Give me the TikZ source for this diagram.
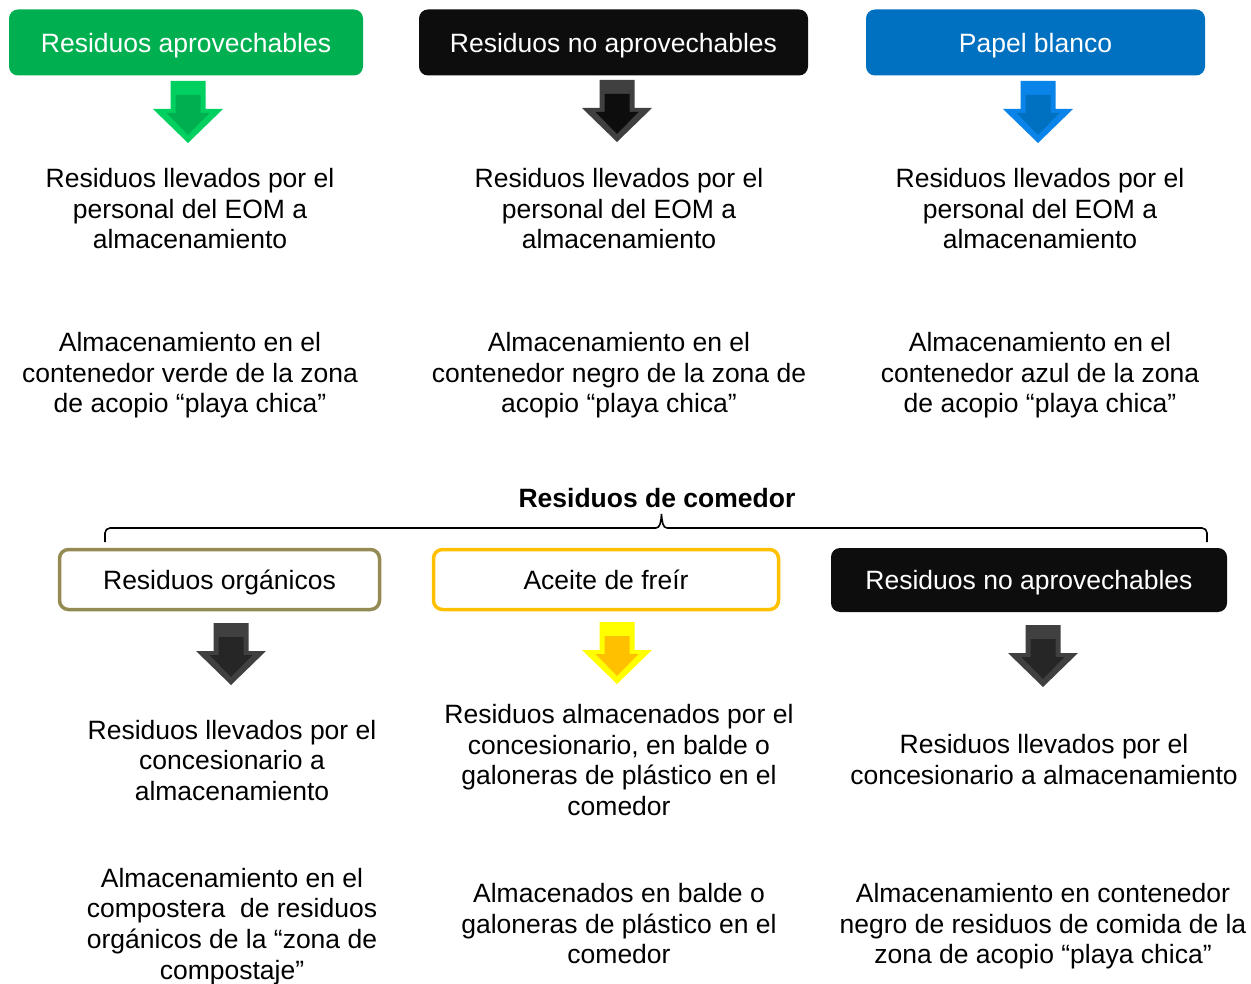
\documentclass[tikz,border=0pt]{standalone}
\usepackage{fontspec}
\setmainfont{Liberation Sans}
\definecolor{gbox}{HTML}{00B050}
\definecolor{garrow}{HTML}{00D060}
\definecolor{bbox}{HTML}{0D0D0D}
\definecolor{barrow}{HTML}{404040}
\definecolor{blbox}{HTML}{0070C0}
\definecolor{blarrow}{HTML}{0A84E8}
\definecolor{olive}{HTML}{948A54}
\definecolor{gold}{HTML}{FFC000}
\definecolor{yel}{HTML}{FFFF00}
\definecolor{dk}{HTML}{262626}
\tikzset{
  x=1pt, y=-1pt,
  txt/.style={align=center, font=\fontsize{26.5}{30.6}\selectfont, inner sep=0pt, text depth=0pt},
  hdr/.style={rounded corners=9pt, minimum height=66pt, font=\fontsize{26.5}{30.6}\selectfont, text=white, inner sep=0pt, text height=19.3pt, text depth=0pt},
  hdrline/.style={rounded corners=9pt, line width=3.5pt, minimum height=60pt, font=\fontsize{26.5}{30.6}\selectfont, inner sep=0pt, text height=19.3pt, text depth=0pt},
  pics/dnarrow/.style n args={2}{code={
    \fill[#1] (-17.5,0) -- (17.5,0) -- (17.5,28) -- (35,28) -- (0,62) -- (-35,28) -- (-17.5,28) -- cycle;
    \fill[#2] (-12.5,14) -- (12.5,14) -- (12.5,32) -- (21.5,32) -- (0,54) -- (-21.5,32) -- (-12.5,32) -- cycle;
  }}
}
\begin{document}
\begin{tikzpicture}
\useasboundingbox[fill=white] (0,0) rectangle (1251,984);
% top headers
\node[hdr, fill=gbox, minimum width=354pt] (h1) at (186,42.5) {Residuos aprovechables};
\node[hdr, fill=bbox, minimum width=389pt] (h2) at (613.5,42.5) {Residuos no aprovechables};
\node[hdr, fill=blbox, minimum width=339pt] (h3) at (1035.5,42.5) {Papel blanco};
% top arrows
\pic (a1) at (188,81) {dnarrow={garrow}{gbox}};
\pic (a2) at (617,80) {dnarrow={barrow}{bbox}};
\pic (a3) at (1038,81) {dnarrow={blarrow}{blbox}};
% top texts
\node[txt] (t11) at (190,208.5) {Residuos llevados por el\\personal del EOM a\\almacenamiento};
\node[txt] (t12) at (619,208.5) {Residuos llevados por el\\personal del EOM a\\almacenamiento};
\node[txt] (t13) at (1040,208.5) {Residuos llevados por el\\personal del EOM a\\almacenamiento};
\node[txt] (t21) at (190,372.5) {Almacenamiento en el\\contenedor verde de la zona\\de acopio “playa chica”};
\node[txt] (t22) at (619,372.5) {Almacenamiento en el\\contenedor negro de la zona de\\acopio “playa chica”};
\node[txt] (t23) at (1040,372.5) {Almacenamiento en el\\contenedor azul de la zona\\de acopio “playa chica”};
% title and brace
\node[txt, font=\fontsize{26.5}{30.6}\selectfont\bfseries] (title) at (657,497.5) {Residuos de comedor};
\draw[line width=1.6pt, rounded corners=5pt] (105,542) -- (105,528) -- (656,528);
\draw[line width=1.6pt, rounded corners=5pt] (1207,542) -- (1207,528) -- (667,528);
\draw[line width=1.6pt] (656,528) .. controls (660,528) and (661,522) .. (661.5,514) .. controls (662,522) and (663,528) .. (667,528);
% bottom headers
\node[hdrline, draw=olive, minimum width=320pt] (b1) at (219.5,579.5) {Residuos orgánicos};
\node[hdrline, draw=gold, minimum width=345pt] (b2) at (606,579.5) {Aceite de freír};
\node[hdr, fill=bbox, minimum width=396pt, minimum height=64pt] (b3) at (1029,580) {Residuos no aprovechables};
% bottom arrows
\pic (c1) at (231,623) {dnarrow={barrow}{dk}};
\pic (c2) at (617,622) {dnarrow={yel}{gold}};
\pic (c3) at (1043,625) {dnarrow={barrow}{dk}};
% bottom texts
\node[txt] (u11) at (232,760) {Residuos llevados por el\\concesionario a\\almacenamiento};
\node[txt] (u12) at (619,760) {Residuos almacenados por el\\concesionario, en balde o\\galoneras de plástico en el\\comedor};
\node[txt] (u13) at (1044,759.5) {Residuos llevados por el\\concesionario a almacenamiento};
\node[txt] (u21) at (232,923.5) {Almacenamiento en el\\compostera\ \ de residuos\\orgánicos de la “zona de\\compostaje”};
\node[txt] (u22) at (619,923.5) {Almacenados en balde o\\galoneras de plástico en el\\comedor};
\node[txt] (u23) at (1043,923.5) {Almacenamiento en contenedor\\negro de residuos de comida de la\\zona de acopio “playa chica”};
\end{tikzpicture}
\end{document}
